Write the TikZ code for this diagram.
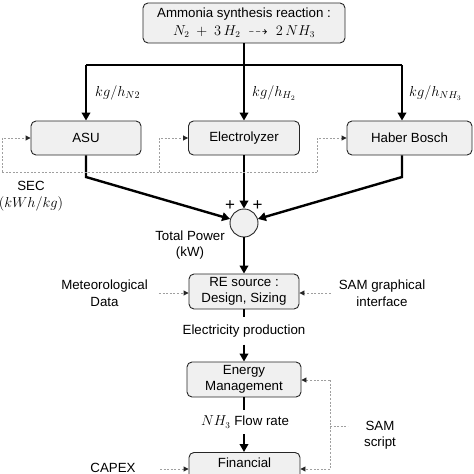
\documentclass[tikz,border=0pt]{standalone}
\usepackage{amssymb}
\usepackage{fontspec}
\setmainfont{Liberation Sans}
\usetikzlibrary{arrows.meta}
\begin{document}
\begin{tikzpicture}[x=1pt,y=-1pt,
  every node/.style={font=\fontsize{13.3}{16.5}\selectfont, inner sep=0pt, align=center},
  box/.style={draw=black!85, fill=gray!12, rounded corners=5pt, line width=0.9pt},
  flow/.style={line width=2.4pt, black},
  flowarrow/.style={flow, -{Triangle[length=8pt,width=8.5pt]}},
  dotline/.style={draw=gray!75, line width=0.9pt, dash pattern=on 2pt off 1.6pt},
  dotarrow/.style={dotline, -{Triangle[length=5pt,width=5pt,color=black!85]}},
  lbl/.style={anchor=west, font=\fontsize{14}{16.5}\selectfont},
  plus/.style={font=\fontsize{17}{17}\selectfont}
]
\useasboundingbox (0,0) rectangle (474,474);
\clip (0,0) rectangle (474,474);

% top box
\node[box, minimum width=202pt, minimum height=40pt, font=\fontsize{13.3}{18}\selectfont] (top) at (244,23)
  {Ammonia synthesis reaction :\\ $N_2\ +\ 3\,H_2\ \dashrightarrow\ 2\,NH_3$};

% process boxes
\node[box, minimum width=110pt, minimum height=34pt] (asu) at (86,138) {ASU};
\node[box, minimum width=111pt, minimum height=34pt] (ely) at (244,138) {Electrolyzer};
\node[box, minimum width=125pt, minimum height=34pt] (hb) at (409.5,138) {Haber Bosch};

% distribution bus
\coordinate (bm) at (244,65);
\coordinate (bl) at (86,65);
\coordinate (br) at (402,65);
\draw[flow] (top.south) -- (bm);
\draw[flow] (bl) -- (br);
\draw[flowarrow] (bl) -- (asu.north);
\draw[flowarrow] (bm) -- (ely.north);
\draw[flowarrow] (br) -- (br |- hb.north);

\node[lbl] (l1) at (95,93) {$kg/h_{N2}$};
\node[lbl] (l2) at (252,93) {$kg/h_{H_2}$};
\node[lbl] (l3) at (409,93) {$kg/h_{NH_3}$};

% summation
\node[circle, draw=black!85, fill=gray!12, line width=0.9pt, minimum size=28pt] (sum) at (244,223) {};
\coordinate (ka) at (86,177);
\coordinate (kh) at (402,177);
\draw[flowarrow] (asu.south) -- (ka) -- (sum);
\draw[flowarrow] (hb.south -| kh) -- (kh) -- (sum);
\draw[flowarrow] (ely.south) -- (sum.north);
\node[plus] (p1) at (230,206) {+};
\node[plus] (p2) at (257.5,206) {+};
\node (tp) at (190,245) {Total Power\\(kW)};

% SEC feedback
\coordinate (d0) at (2,172);
\coordinate (d1) at (159,172);
\coordinate (d2) at (317,172);
\draw[dotline] (d0) -- (d2);
\draw[dotarrow] (d0) |- (asu.west);
\draw[dotarrow] (d1) |- (ely.west);
\draw[dotarrow] (d2) |- (hb.west);
\node (sec) at (31,196) {SEC\\{\fontsize{14}{16}\selectfont$(kWh/kg)$}};

% RE source
\node[box, minimum width=110pt, minimum height=35pt] (re) at (244,291.5) {RE source :\\Design, Sizing};
\draw[flowarrow] (sum.south) -- (re.north);
\node[inner xsep=11pt] (met) at (104.5,293) {Meteorological\\Data};
\node[inner xsep=8pt] (sam) at (382,293) {SAM graphical\\interface};
\draw[dotarrow] (met.east) -- (met.east -| re.west);
\draw[dotarrow] (sam.west) -- (sam.west -| re.east);

% Energy management
\node[minimum height=27pt] (ep) at (244,331) {Electricity production};
\node[box, minimum width=114pt, minimum height=35pt] (em) at (244,379.5) {Energy\\Management};
\draw[flow] (re.south) -- (ep.north);
\draw[flowarrow] (ep.south) -- (em.north);

% Financial
\node[minimum height=24pt] (fr) at (245,422) {$NH_3$ Flow rate};
\node[box, anchor=north, minimum width=111pt, inner ysep=5.3pt, text depth=22pt] (fin) at (244.5,452) {Financial};
\draw[flow] (em.south) -- (em.south |- fr.north);
\draw[flowarrow] (fr.south -| em.south) -- (fin.north -| em.south);

% SAM script
\coordinate (s1) at (330,380);
\coordinate (s2) at (330,469);
\coordinate (sj) at (330,426);
\draw[dotline] (s1) -- (s2);
\draw[dotarrow] (s1) -- (em.east |- s1);
\draw[dotarrow] (s2) -- (fin.east |- s2);
\node (ss) at (380,435) {SAM\\script};
\draw[dotline] (sj) -- (348,426);

% CAPEX
\node (cap) at (113,467.5) {CAPEX};
\coordinate (c0) at (160,469);
\draw[dotarrow] (c0) -- (fin.west |- c0);
\end{tikzpicture}
\end{document}
